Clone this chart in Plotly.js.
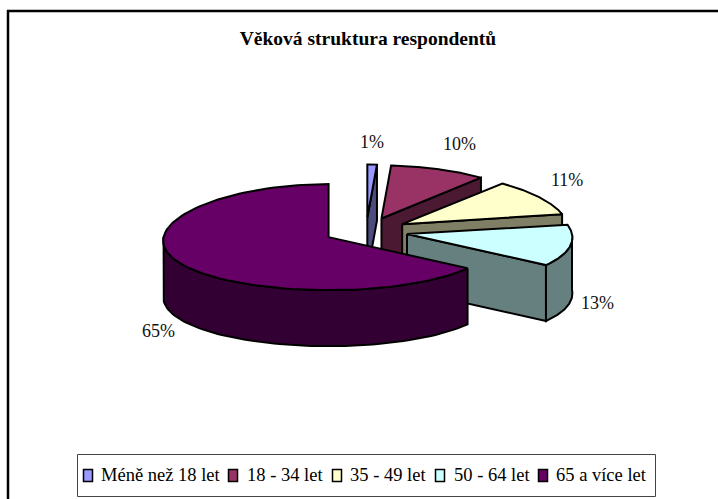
<!DOCTYPE html>
<html>
<head>
<meta charset="utf-8">
<script src="https://cdn.plot.ly/plotly-3.0.1.min.js"></script>
<style>html,body{margin:0;padding:0;background:#fff}#c{width:718px;height:499px}</style>
</head>
<body>
<div id="c"></div>
<script>
var categories = ["Méně než 18 let", "18 - 34 let", "35 - 49 let", "50 - 64 let", "65 a více let"];
var values = [1, 10, 11, 13, 65];
var topColors = ["#9999FF", "#993366", "#FFFFCC", "#CCFFFF", "#660066"];
var sideColors = ["#4C4C7F", "#4C1933", "#7F7F66", "#667F7F", "#330033"];
var chartTitle = "Věková struktura respondentů";

// projection of the tilted pie onto the pixel-scaled axes
var cx = 366, cy = 231, rx = 165, ry = 53, depth = 56, pull = 42, persp = 0.07;
var labelX = [372, 459, 567, 597, 158];
var labelY = [142, 144, 180, 303, 331];
// hand-set legend row (swatch centres and text starts)
var legendSwatchX = [88, 233, 337, 440, 543];
var legendTextX = [100, 246, 349, 453, 555];

var total = values.reduce(function (a, b) { return a + b; }, 0);
var rad = Math.PI / 180;
function rim(ox, oy, t) {
  return [ox + rx * (1 - persp * Math.cos(t * rad)) * Math.sin(t * rad), oy - ry * Math.cos(t * rad)];
}
function poly(pts, fill, name) {
  return {
    type: "scatter", mode: "lines", fill: "toself", fillcolor: fill,
    x: pts.map(function (p) { return p[0]; }), y: pts.map(function (p) { return p[1]; }),
    line: { color: "#000", width: 2, shape: "linear" }, showlegend: false, hoverinfo: "skip", name: name
  };
}
var traces = [], start = 0;
values.forEach(function (v, i) {
  var t0 = start, t1 = start + v / total * 360, mid = (t0 + t1) / 2;
  start = t1;
  var ox = cx + pull * Math.sin(mid * rad), oy = cy - pull * (ry / rx) * Math.cos(mid * rad);
  // cut face at the clockwise end of the slice
  if (Math.sin(t1 * rad) > 0.001) {
    var e = rim(ox, oy, t1);
    traces.push(poly([[ox, oy], e, [e[0], e[1] + depth], [ox, oy + depth], [ox, oy]], sideColors[i], categories[i]));
  }
  // outer wall, where the rim faces the viewer
  var a = Math.max(t0, 90), b = Math.min(t1, 270);
  if (b > a) {
    var upper = [], lower = [];
    for (var s = 0; s <= 80; s++) {
      var p = rim(ox, oy, a + (b - a) * s / 80);
      upper.push(p); lower.unshift([p[0], p[1] + depth]);
    }
    traces.push(poly(upper.concat(lower, [upper[0]]), sideColors[i], categories[i]));
  }
  // top face
  var pts = [[ox, oy]];
  for (var k = 0; k <= 120; k++) pts.push(rim(ox, oy, t0 + (t1 - t0) * k / 120));
  pts.push([ox, oy]);
  traces.push(poly(pts, topColors[i], categories[i]));
});
var serif = "'Liberation Serif','Times New Roman',serif";
var annotations = values.map(function (v, i) {
  return { xref: "x", yref: "y", x: labelX[i], y: labelY[i], text: Math.round(v / total * 100) + "%",
           showarrow: false, font: { family: serif, size: 18, color: "#111" } };
});
var shapes = [
  { type: "rect", xref: "x", yref: "y", x0: 77.5, x1: 655.5, y0: 454.5, y1: 496.5, fillcolor: "#fff", line: { color: "#444", width: 1 } },
  { type: "line", xref: "x", yref: "y", x0: 7, x1: 718, y0: 11, y1: 11, line: { color: "#000", width: 2.5 } },
  { type: "line", xref: "x", yref: "y", x0: 8, x1: 8, y0: 10, y1: 499, line: { color: "#000", width: 2.5 } }
];
categories.forEach(function (c, i) {
  annotations.push({ xref: "x", yref: "y", x: legendTextX[i], y: 475, xanchor: "left", text: c, showarrow: false,
                     xshift: -1, font: { family: serif, size: 18.5, color: "#000" } });
  shapes.push({ type: "rect", xref: "x", yref: "y", x0: legendSwatchX[i] - 4.5, x1: legendSwatchX[i] + 4.5, y0: 469.5, y1: 481.5,
                fillcolor: topColors[i], line: { color: "#000", width: 1.5 } });
});
var layout = {
  width: 718, height: 499, margin: { l: 0, r: 0, t: 0, b: 0 },
  paper_bgcolor: "#fff", plot_bgcolor: "#fff",
  font: { family: serif, size: 18, color: "#000" },
  title: { text: "<b>" + chartTitle + "</b>", x: 368 / 718, xanchor: "center", y: 1 - 38 / 499, yanchor: "middle",
           font: { family: serif, size: 19.5, color: "#000" } },
  xaxis: { range: [0, 718], visible: false, fixedrange: true },
  yaxis: { range: [499, 0], visible: false, fixedrange: true },
  showlegend: false,
  annotations: annotations,
  shapes: shapes
};
Plotly.newPlot("c", traces, layout, { displayModeBar: false, staticPlot: true });
</script>
</body>
</html>
